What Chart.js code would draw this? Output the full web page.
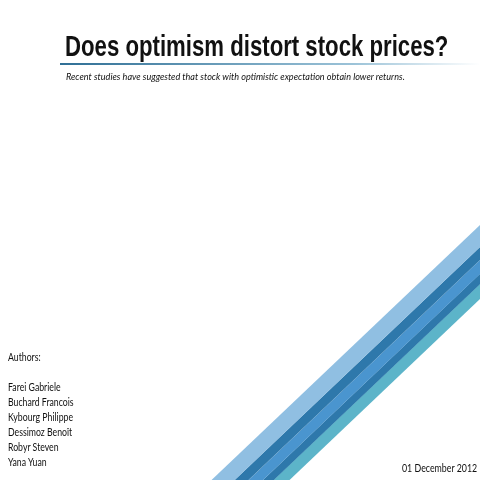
<!DOCTYPE html>
<html><head><meta charset="utf-8">
<script src="https://cdn.jsdelivr.net/npm/chart.js@4"></script>
<style>
html,body{margin:0;padding:0;background:#fff;}
#wrap{position:relative;width:480px;height:480px;overflow:hidden;font-family:Lato,"Open Sans",sans-serif;}
canvas{position:absolute;left:0;top:0;}
.t{position:absolute;white-space:nowrap;color:#111;transform-origin:0 0;}
#title{left:65px;top:30px;font:bold 29px "Liberation Sans",Arial,sans-serif;transform:scaleX(0.765);}
#rule{position:absolute;left:60px;top:63px;width:420px;height:2px;background:linear-gradient(to right,#2f6f95,#9cc3d8 70%,#fff);}
#sub{left:66px;top:70px;font:italic 10px Lato,sans-serif;transform:scaleX(0.91);}
#authors{left:8px;top:350px;font-size:10.5px;line-height:15px;transform:scaleX(0.83);}
#date{left:402px;top:462px;font-size:10.5px;transform:scaleX(0.84);}
</style></head>
<body><div id="wrap">
<canvas id="c" width="480" height="480"></canvas>
<div class="t" id="title">Does optimism distort stock prices?</div>
<div id="rule"></div>
<div class="t" id="sub">Recent studies have suggested that stock with optimistic expectation obtain lower returns.</div>
<div class="t" id="authors">Authors:<br><br>Farei Gabriele<br>Buchard Francois<br>Kybourg Philippe<br>Dessimoz Benoît<br>Robyr Steven<br>Yana Yuan</div>
<div class="t" id="date">01 December 2012</div>
</div>
<script>
// stripe centre heights at the right edge (x=480), top to bottom
const stripeNames = ['light', 'dark1', 'medium', 'dark2', 'teal'];
const stripeCentres = [236, 253.5, 267, 279, 291.5];
const stripeWidths = [16, 9.5, 10, 7.5, 11];
const stripeColors = ['#90bfe2', '#2e78ab', '#4a95cf', '#2e78ab', '#5cb4c9'];
const slope = 0.95;

const datasets = stripeNames.map((n, i) => ({
  label: n,
  data: [{ x: 180, y: stripeCentres[i] + (480 - 180) * slope }, { x: 495, y: stripeCentres[i] - 15 * slope }],
  borderColor: stripeColors[i],
  borderWidth: stripeWidths[i],
  borderCapStyle: 'butt',
  pointRadius: 0,
  fill: false,
}));

new Chart(document.getElementById('c'), {
  type: 'line',
  data: { datasets },
  options: {
    responsive: false,
    animation: false,
    layout: { padding: 0 },
    plugins: { legend: { display: false }, tooltip: { enabled: false } },
    scales: {
      x: { type: 'linear', min: 0, max: 480, display: false },
      y: { type: 'linear', min: 0, max: 480, reverse: true, display: false },
    }
  }
});
</script>
</body></html>
